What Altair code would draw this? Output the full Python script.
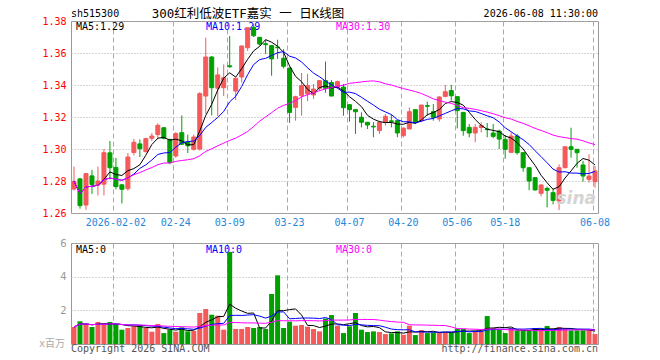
import json
import altair as alt
import pandas as pd

# ---------------- data ----------------
dates = ['01-22', '01-23', '01-26', '01-27', '01-28', '01-29', '01-30',
         '02-02', '02-03', '02-04', '02-05', '02-06', '02-09', '02-10', '02-11', '02-12', '02-13',
         '02-24', '02-25', '02-26', '02-27',
         '03-02', '03-03', '03-04', '03-05', '03-06', '03-09', '03-10', '03-11', '03-12', '03-13',
         '03-16', '03-17', '03-18', '03-19', '03-20', '03-23', '03-24', '03-25', '03-26', '03-27',
         '03-30', '03-31',
         '04-01', '04-02', '04-03', '04-07', '04-08', '04-09', '04-10', '04-13', '04-14', '04-15',
         '04-16', '04-17', '04-20', '04-21', '04-22', '04-23', '04-24', '04-27', '04-28', '04-29', '04-30',
         '05-06', '05-07', '05-08', '05-11', '05-12', '05-13', '05-14', '05-15', '05-18', '05-19',
         '05-20', '05-21', '05-22', '05-25', '05-26', '05-27', '05-28', '05-29',
         '06-01', '06-02', '06-03', '06-04', '06-05', '06-08']

opens = [1.2750, 1.2813, 1.2650, 1.2832, 1.2775, 1.2780, 1.2976, 1.2884, 1.2776, 1.2752,
         1.2978, 1.3032, 1.2983, 1.3067, 1.3090, 1.3133, 1.3060, 1.2956, 1.3102, 1.3044,
         1.2998, 1.3000, 1.3331, 1.3575, 1.3380, 1.3383, 1.3520, 1.3362, 1.3450, 1.3633,
         1.3760, 1.3698, 1.3658, 1.3646, 1.3637, 1.3567, 1.3506, 1.3260, 1.3333, 1.3344,
         1.3338, 1.3379, 1.3427, 1.3415, 1.3385, 1.3387, 1.3277, 1.3246, 1.3198, 1.3167,
         1.3142, 1.3115, 1.3167, 1.3176, 1.3177, 1.3083, 1.3125, 1.3246, 1.3177, 1.3271,
         1.3233, 1.3188, 1.3329, 1.3365, 1.3327, 1.3229, 1.3135, 1.3100, 1.3135, 1.3125,
         1.3100, 1.3112, 1.3060, 1.2979, 1.3081, 1.2977, 1.2883, 1.2821, 1.2723, 1.2754,
         1.2727, 1.2675, 1.2883, 1.3014, 1.2998, 1.2900, 1.2810, 1.2796]

highs = [1.2890, 1.2820, 1.2850, 1.2870, 1.2890, 1.3000, 1.3050, 1.2945, 1.2780, 1.2975,
         1.3063, 1.3060, 1.3070, 1.3100, 1.3160, 1.3135, 1.3065, 1.3105, 1.3210, 1.3090,
         1.3090, 1.3355, 1.3696, 1.3580, 1.3510, 1.3529, 1.3706, 1.3445, 1.3644, 1.3760,
         1.3780, 1.3700, 1.3683, 1.3648, 1.3683, 1.3625, 1.3508, 1.3333, 1.3475, 1.3469,
         1.3406, 1.3430, 1.3546, 1.3430, 1.3427, 1.3406, 1.3277, 1.3246, 1.3229, 1.3167,
         1.3167, 1.3177, 1.3219, 1.3213, 1.3177, 1.3135, 1.3260, 1.3246, 1.3275, 1.3296,
         1.3281, 1.3330, 1.3400, 1.3400, 1.3327, 1.3229, 1.3156, 1.3156, 1.3167, 1.3163,
         1.3156, 1.3121, 1.3088, 1.3104, 1.3094, 1.2980, 1.2885, 1.2821, 1.2780, 1.2765,
         1.2754, 1.2904, 1.3014, 1.3133, 1.2998, 1.2925, 1.2967, 1.2894]

lows = [1.2740, 1.2627, 1.2620, 1.2720, 1.2710, 1.2710, 1.2810, 1.2748, 1.2660, 1.2740,
        1.2960, 1.2950, 1.2980, 1.3050, 1.3060, 1.3060, 1.2905, 1.2945, 1.3025, 1.2975,
        1.2990, 1.2990, 1.3220, 1.3210, 1.3206, 1.3331, 1.3508, 1.3306, 1.3415, 1.3613,
        1.3700, 1.3646, 1.3594, 1.3458, 1.3563, 1.3504, 1.3163, 1.3177, 1.3208, 1.3300,
        1.3313, 1.3365, 1.3352, 1.3330, 1.3379, 1.3208, 1.3171, 1.3094, 1.3135, 1.3125,
        1.3073, 1.3094, 1.3146, 1.3135, 1.3073, 1.3073, 1.3125, 1.3156, 1.3167, 1.3208,
        1.3177, 1.3171, 1.3323, 1.3302, 1.3129, 1.3083, 1.3073, 1.3042, 1.3104, 1.3073,
        1.3067, 1.3000, 1.2939, 1.2979, 1.2965, 1.2858, 1.2742, 1.2740, 1.2704, 1.2635,
        1.2654, 1.2619, 1.2880, 1.2946, 1.2883, 1.2796, 1.2790, 1.2758]

closes = [1.2798, 1.2646, 1.2846, 1.2778, 1.2800, 1.2977, 1.2883, 1.2765, 1.2748, 1.2950,
          1.3042, 1.3002, 1.3065, 1.3081, 1.3148, 1.3067, 1.2915, 1.3096, 1.3030, 1.3020,
          1.3075, 1.3346, 1.3575, 1.3383, 1.3463, 1.3446, 1.3514, 1.3442, 1.3644, 1.3758,
          1.3708, 1.3656, 1.3652, 1.3563, 1.3633, 1.3517, 1.3229, 1.3327, 1.3396, 1.3396,
          1.3375, 1.3427, 1.3379, 1.3331, 1.3421, 1.3258, 1.3246, 1.3233, 1.3167, 1.3150,
          1.3138, 1.3167, 1.3204, 1.3171, 1.3100, 1.3130, 1.3233, 1.3167, 1.3275, 1.3267,
          1.3198, 1.3325, 1.3358, 1.3333, 1.3240, 1.3115, 1.3100, 1.3135, 1.3146, 1.3121,
          1.3079, 1.3062, 1.2998, 1.3081, 1.2977, 1.2883, 1.2800, 1.2744, 1.2775, 1.2742,
          1.2679, 1.2883, 1.3014, 1.2998, 1.2977, 1.2831, 1.2831, 1.2863]

volumes = [1.01, 1.35, 1.21, 1.01, 1.31, 1.15, 1.31, 1.19, 0.85, 0.95,
           1.05, 1.13, 0.95, 0.73, 1.19, 0.65, 0.85, 0.73, 0.99, 0.75,
           0.77, 1.84, 2.08, 1.74, 1.68, 0.85, 5.47, 0.89, 0.89, 1.01,
           0.95, 1.01, 0.89, 2.97, 4.08, 0.95, 1.33, 1.09, 1.13, 1.03,
           0.89, 0.75, 1.52, 1.72, 1.09, 0.65, 1.05, 1.84, 0.85, 0.71,
           0.75, 0.71, 0.59, 0.63, 0.75, 0.55, 1.09, 0.53, 0.83, 0.65,
           0.69, 0.69, 0.69, 0.69, 0.91, 0.89, 0.65, 0.75, 0.75, 1.66,
           0.95, 0.85, 0.65, 0.95, 0.81, 0.81, 0.81, 0.95, 0.85, 1.07,
           0.83, 1.01, 0.89, 0.81, 0.81, 0.81, 0.81, 0.59]

date_ticks = ['02-02', '02-24', '03-09', '03-23', '04-07', '04-20', '05-06', '05-18', '06-08']
date_tick_labels = ['2026-02-02', '02-24', '03-09', '03-23', '04-07', '04-20', '05-06', '05-18', '06-08']
price_ticks = [1.26, 1.28, 1.30, 1.32, 1.34, 1.36, 1.38]
vol_ticks = [2, 4, 6]

code_label = 'sh515300'
title_label = '300红利低波ETF嘉实 一 日K线图'
time_label = '2026-06-08 11:30:00'
price_ma_labels = ['MA5:1.29', 'MA10:1.29', 'MA30:1.30']
vol_ma_labels = ['MA5:0', 'MA10:0', 'MA30:0']
unit_label = 'x百万'
copyright_label = 'Copyright 2026 SINA.COM'
url_label = 'http://finance.sina.com.cn'

df = pd.DataFrame({'i': list(range(len(dates))), 'date': dates, 'open': opens, 'high': highs,
                   'low': lows, 'close': closes, 'volume': volumes})

# ---------------- styles ----------------
RED = '#f55a5a'
GREEN = '#00a000'
GRID = '#aaaaaa'
XCOL = '#2288dd'
MONO = 'DejaVu Sans Mono'
CJK = 'Noto Sans CJK SC'
MIXED = 'DejaVu Sans Mono, Noto Sans CJK SC'
MA_COLORS = ['#000000', '#0000ff', '#ff00ff']
W, PH, VH = 527, 192, 101

label_expr = f"{json.dumps(date_tick_labels)}[indexof({json.dumps(date_ticks)}, datum.value)]"


def x_enc(show_labels):
    return alt.X('date:O', sort=None, title=None,
                 scale=alt.Scale(paddingInner=0.2, paddingOuter=0.1),
                 axis=alt.Axis(values=date_ticks, labelExpr=label_expr, labels=show_labels,
                               bandPosition=0.1, ticks=False, tickSize=0, domain=False,
                               grid=True, gridColor=GRID, gridDash=[5, 3], gridWidth=1,
                               labelColor=XCOL, labelFont=MONO, labelFontSize=10,
                               labelPadding=4, labelAngle=0, title=None))


py_scale = alt.Scale(domain=[1.26, 1.38], nice=False, zero=False)
py_axis = alt.Axis(values=price_ticks, format='.2f', labelColor='#ff0000', labelFont=MONO,
                   labelFontSize=10, labelPadding=5, ticks=False, tickSize=0, domain=False,
                   grid=True, gridColor=GRID, gridDash=[1, 2], title=None, labelFlush=False)
vy_scale = alt.Scale(domain=[0, 6], nice=False, zero=True)
vy_axis = alt.Axis(values=vol_ticks, labelColor='#999999', labelFont='DejaVu Sans',
                   labelFontSize=10, labelPadding=5, ticks=False, tickSize=0, domain=False,
                   grid=True, gridColor=GRID, gridDash=[1, 2], title=None, labelFlush=False)
dir_scale = alt.Scale(domain=['up', 'down'], range=[RED, GREEN])

base = alt.Chart(df).transform_calculate(dir="datum.close >= datum.open ? 'up' : 'down'")
srt = [alt.SortField('i', order='ascending')]


def text_layer(label, x, y, color, align='left', font=MONO, size=10, **kw):
    return alt.Chart(pd.DataFrame({'label': [label]})).mark_text(
        align=align, baseline='middle', font=font, fontSize=size, color=color, **kw
    ).encode(x=alt.value(x), y=alt.value(y), text='label:N')


def marker(x, y):
    return alt.Chart(pd.DataFrame({'k': [0]})).mark_rule(color='white', strokeWidth=1).encode(
        x=alt.value(x), y=alt.value(y), y2=alt.value(y + 1))


# ---------------- price panel ----------------
wick = base.mark_rule(strokeWidth=1).encode(
    x=x_enc(True), y=alt.Y('low:Q', scale=py_scale, axis=py_axis), y2='high:Q',
    color=alt.Color('dir:N', scale=dir_scale, legend=None))
body = base.mark_bar(width=4, strokeWidth=1).encode(
    x=x_enc(True), y=alt.Y('open:Q', scale=py_scale, axis=py_axis), y2='close:Q',
    fill=alt.Fill('dir:N', scale=dir_scale, legend=None),
    stroke=alt.Stroke('dir:N', scale=dir_scale, legend=None))

pma = (base.transform_window(ma5='mean(close)', frame=[-4, 0], sort=srt)
       .transform_window(ma10='mean(close)', frame=[-9, 0], sort=srt)
       .transform_window(ma30='mean(close)', frame=[-29, 0], sort=srt))
plines = [pma.mark_line(color=c, strokeWidth=1).encode(
    x=x_enc(True), y=alt.Y(f'{f}:Q', scale=py_scale, axis=py_axis), order='i:Q')
    for f, c in zip(['ma5', 'ma10', 'ma30'], MA_COLORS)]

ptexts = [
    text_layer(code_label, 0, -7, '#000000'),
    text_layer(title_label, 177, -7, '#000000', align='center', font=MIXED, size=12.5),
    text_layer(time_label, W, -7, '#000000', align='right'),
    text_layer(price_ma_labels[0], 5, 6, MA_COLORS[0]),
    text_layer(price_ma_labels[1], 135, 6, MA_COLORS[1]),
    text_layer(price_ma_labels[2], 265, 6, MA_COLORS[2]),
]
watermark = text_layer('sina', 525, 178, '#d4d4d4', align='right', font='DejaVu Sans',
                       size=17, fontStyle='italic', fontWeight='bold')

price = alt.layer(*ptexts, wick, body, *plines, watermark,
                  marker(-70, -20), marker(0, 210.5)).properties(width=W, height=PH)

# ---------------- volume panel ----------------
vbar = base.mark_bar(width=5).encode(
    x=x_enc(False), y=alt.Y('volume:Q', scale=vy_scale, axis=vy_axis),
    color=alt.Color('dir:N', scale=dir_scale, legend=None))
vma = (base.transform_window(v5='mean(volume)', frame=[-4, 0], sort=srt)
       .transform_window(v10='mean(volume)', frame=[-9, 0], sort=srt)
       .transform_window(v30='mean(volume)', frame=[-29, 0], sort=srt))
vlines = [vma.mark_line(color=c, strokeWidth=1).encode(
    x=x_enc(False), y=alt.Y(f'{f}:Q', scale=vy_scale, axis=vy_axis), order='i:Q')
    for f, c in zip(['v5', 'v10', 'v30'], MA_COLORS)]
vtexts = [
    text_layer(vol_ma_labels[0], 5, 7, MA_COLORS[0]),
    text_layer(vol_ma_labels[1], 135, 7, MA_COLORS[1]),
    text_layer(vol_ma_labels[2], 265, 7, MA_COLORS[2]),
    text_layer(unit_label, -32, VH, '#aaaaaa', font=MIXED, size=10),
    text_layer(copyright_label, 0, VH + 5, '#555555'),
    text_layer(url_label, W, VH + 5, '#555555', align='right'),
]
volume = alt.layer(*vtexts, vbar, *vlines, marker(0, -7.5)).properties(width=W, height=VH)

chart = (alt.vconcat(price, volume, spacing=0)
         .properties(padding=0, background='white')
         .configure_view(stroke='#999999', strokeWidth=1))

chart.save('out.html', embed_options={'renderer': 'svg', 'actions': False})
